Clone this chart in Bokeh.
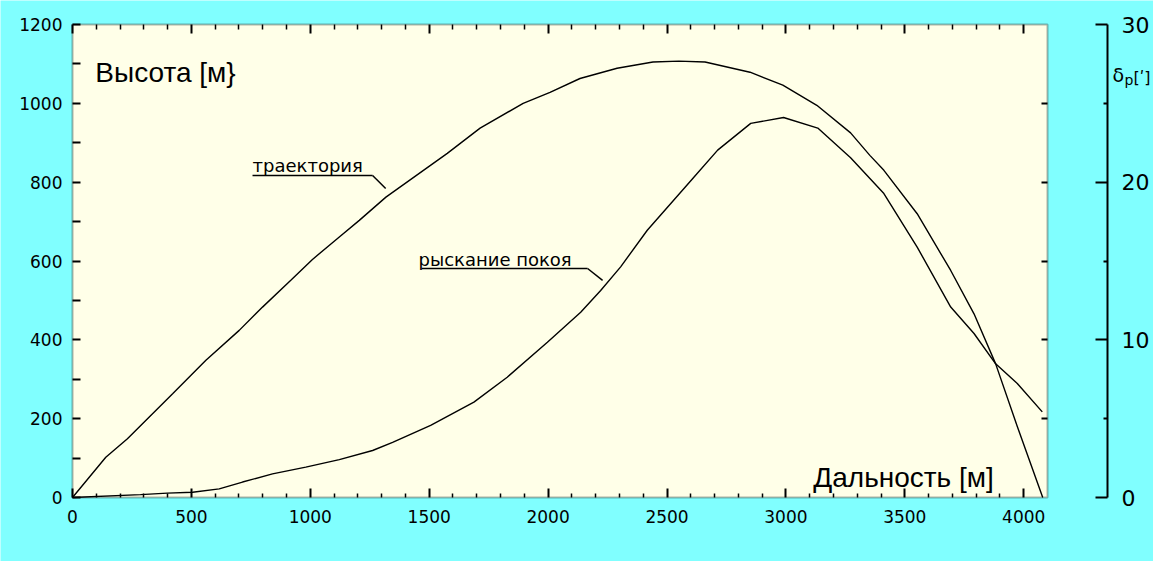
from bokeh.plotting import figure
from bokeh.models import Range1d, LinearAxis, FixedTicker, Label, Arrow, BoxAnnotation
from bokeh.embed import file_html
from bokeh.resources import INLINE

# ---- data ----
traj_x = [0, 140, 231, 421, 561, 701, 799, 918, 1009, 1122, 1206, 1318, 1576, 1714,
          1895, 2008, 2134, 2290, 2441, 2550, 2660, 2849, 2987, 3130, 3272, 3353, 3412,
          3552, 3693, 3791, 3882, 3973, 4080]
traj_h = [0, 102, 149, 263, 348, 424, 483, 551, 604, 661, 703, 762, 873, 937,
          1000, 1028, 1063, 1089, 1105, 1107, 1105, 1079, 1046, 995, 925, 868, 830,
          720, 576, 466, 339, 180, 0]

yaw_x = [0, 286, 399, 505, 617, 715, 841, 981, 1122, 1262, 1346, 1506, 1688, 1828,
         1997, 2137, 2221, 2305, 2417, 2612, 2713, 2852, 2990, 3134, 3272, 3412, 3552,
         3693, 3791, 3882, 3973, 4078]
yaw_d = [0, 0.18, 0.28, 0.33, 0.55, 0.98, 1.5, 1.93, 2.4, 2.98, 3.5, 4.58, 6.05, 7.63,
         9.85, 11.75, 13.13, 14.63, 16.95, 20.3, 22.03, 23.73, 24.1, 23.43, 21.55, 19.28, 15.88,
         12.08, 10.4, 8.48, 7.23, 5.43]

x_major = [0, 500, 1000, 1500, 2000, 2500, 3000, 3500, 4000]
x_minor = [v for v in range(100, 4100, 100) if v % 500 != 0]
y_major = [0, 200, 400, 600, 800, 1000, 1200]
y_minor = [100, 300, 500, 700, 900, 1100]
d_major = [0, 10, 20, 30]
d_minor = [5, 15, 25]

X_MAX, Y_MAX, D_MAX = 4100, 1200, 30

CYAN = "#80FFFF"
CREAM = "#FFFFE8"

# ---- layout (pixels) ----
W, H = 1153, 561
AREA_L, AREA_R, AREA_T, AREA_B = 72, 1047, 24, 497   # chart area inside the canvas
DELTA_AXIS_PX = 1107                                   # separate delta axis

sx = (AREA_R - AREA_L) / X_MAX
sy = (AREA_B - AREA_T) / Y_MAX
sd = (AREA_B - AREA_T) / D_MAX
x_rng = Range1d(-AREA_L / sx, (W - AREA_L) / sx)
y_rng = Range1d(-(H - AREA_B) / sy, Y_MAX + AREA_T / sy)
d_rng = Range1d(-(H - AREA_B) / sd, D_MAX + AREA_T / sd)
delta_axis_x = (DELTA_AXIS_PX - AREA_L) / sx

p = figure(width=W, height=H, x_range=x_rng, y_range=y_rng,
           output_backend="svg", toolbar_location=None,
           x_axis_location=None, y_axis_location=None,
           background_fill_color=CYAN, border_fill_color=CYAN,
           min_border=0, outline_line_color=None)
p.grid.visible = False
p.extra_y_ranges = {"d": d_rng}

p.add_layout(BoxAnnotation(left=0, right=X_MAX, bottom=0, top=Y_MAX, level="underlay",
                           fill_color=CREAM, fill_alpha=1, line_color="black", line_width=2))

lab_font = dict(major_label_text_font="DejaVu Sans", major_label_text_color="black")
hidden = dict(major_label_text_font_size="0px", major_label_text_alpha=0, major_label_standoff=0)

xb = LinearAxis(fixed_location=0, ticker=FixedTicker(ticks=x_major, minor_ticks=x_minor),
                major_tick_in=9, major_tick_out=0, minor_tick_in=4, minor_tick_out=0,
                axis_line_color=None, major_tick_line_width=2, minor_tick_line_width=1.5,
                major_label_text_font_size="17px", major_label_standoff=12, **lab_font)
p.add_layout(xb, "below")

xt = LinearAxis(fixed_location=Y_MAX, ticker=FixedTicker(ticks=x_major, minor_ticks=x_minor),
                major_tick_in=9, major_tick_out=0, minor_tick_in=5, minor_tick_out=0,
                axis_line_color=None, major_tick_line_width=2, minor_tick_line_width=1.5,
                **hidden)
p.add_layout(xt, "above")

yl = LinearAxis(fixed_location=0, ticker=FixedTicker(ticks=y_major, minor_ticks=y_minor),
                major_tick_in=8, major_tick_out=0, minor_tick_in=8, minor_tick_out=0,
                axis_line_color=None, major_tick_line_width=2, minor_tick_line_width=2,
                major_label_text_font_size="17px", major_label_standoff=10, **lab_font)
p.add_layout(yl, "left")

yr = LinearAxis(fixed_location=X_MAX,
                ticker=FixedTicker(ticks=[200, 400, 600, 800, 1000], minor_ticks=[]),
                major_tick_in=6, major_tick_out=0, minor_tick_in=0, minor_tick_out=0,
                axis_line_color=None, major_tick_line_width=2, **hidden)
p.add_layout(yr, "right")

yd = LinearAxis(y_range_name="d", fixed_location=delta_axis_x,
                ticker=FixedTicker(ticks=d_major, minor_ticks=d_minor),
                major_tick_in=12, major_tick_out=0, minor_tick_in=4, minor_tick_out=0,
                axis_line_width=2, major_tick_line_width=2, minor_tick_line_width=2,
                major_label_text_font_size="22px", major_label_standoff=14, **lab_font)
p.add_layout(yd, "right")

# bound the delta axis line to 0..30
yd.bounds = (0, D_MAX)

# ---- curves ----
p.line(traj_x, traj_h, line_color="black", line_width=1.4)
p.line(yaw_x, yaw_d, y_range_name="d", line_color="black", line_width=1.4)

# ---- texts ----
def lbl(x, y, t, font, size, align="left", y_name="default"):
    p.add_layout(Label(x=x, y=y, text=t, text_font=font, text_font_size=size,
                       text_color="black", text_align=align, text_baseline="alphabetic"))

lbl(96, 1079, "Высота [м}", "Liberation Sans", "28px")
lbl(3874, 51, "Дальность [м]", "Liberation Sans", "28px", "right")
lbl(757, 842, "траектория", "DejaVu Sans", "18px")
lbl(1455, 603, "рыскание покоя", "DejaVu Sans", "18px")
lbl(4373, 1071, "δ", "DejaVu Sans", "19px")
lbl(4424, 1058, "p", "DejaVu Sans", "14px")
lbl(4462, 1066, "[ʹ]", "DejaVu Sans", "16px")

def seg(x0, y0, x1, y1):
    p.add_layout(Arrow(end=None, x_start=x0, y_start=y0, x_end=x1, y_end=y1,
                       line_color="black", line_width=1.5))

seg(757, 817, 1262, 817)
seg(1262, 817, 1317, 784)
seg(1468, 581, 2166, 581)
seg(2166, 581, 2229, 551)

open("out.html", "w").write(file_html(p, INLINE))
